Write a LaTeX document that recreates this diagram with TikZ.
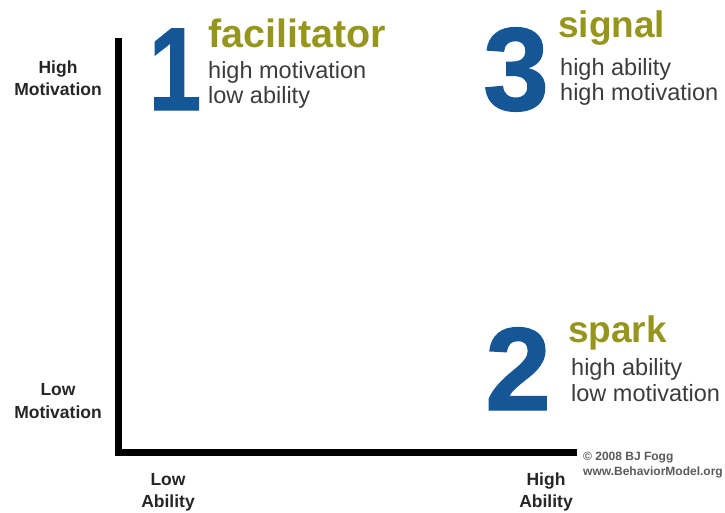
\documentclass[tikz,border=0pt]{standalone}
\usepackage{fontspec}
\setmainfont{Liberation Sans}
\newfontfamily\heavyfont[FakeBold=1.2]{Liberation Sans Bold}
\definecolor{bignum}{RGB}{20,86,150}
\definecolor{olive}{RGB}{150,150,30}
\definecolor{bodygray}{RGB}{60,60,60}
\definecolor{notegray}{RGB}{90,90,90}
\tikzset{
  axisline/.style={line width=7pt, line join=miter, line cap=butt},
  bigdigit/.style={inner sep=0pt, anchor=base, text=bignum, font=\fontsize{118}{118}\heavyfont},
  qtitle/.style={inner sep=0pt, anchor=base west, text=olive, font=\fontsize{37}{37}\selectfont\bfseries},
  qbody/.style={inner sep=0pt, anchor=base west, text=bodygray, font=\fontsize{23.5}{23.5}\selectfont},
  axislabel/.style={inner sep=0pt, anchor=base, text=black!85, font=\fontsize{17.5}{17.5}\selectfont\bfseries},
  note/.style={inner sep=0pt, anchor=base west, text=notegray, font=\fontsize{12}{12}\selectfont\bfseries},
}
\begin{document}
\begin{tikzpicture}[x=1pt,y=-1pt]
\useasboundingbox (0,0) rectangle (725,512);
% axes
\coordinate (top) at (118.5,38);
\coordinate (origin) at (118.5,452);
\coordinate (right) at (577,452);
\draw[axisline] (top) -- (origin) -- (right);
% axis labels
\node[axislabel] (hm1) at (58,73) {High};
\node[axislabel] (hm2) at (58,95) {Motivation};
\node[axislabel] (lm1) at (58,395) {Low};
\node[axislabel] (lm2) at (58,418) {Motivation};
\node[axislabel] (la1) at (168,485) {Low};
\node[axislabel] (la2) at (168,507) {Ability};
\node[axislabel] (ha1) at (546,485) {High};
\node[axislabel] (ha2) at (546,507) {Ability};
% copyright
\node[note] (c1) at (583,460) {© 2008 BJ Fogg};
\node[note] (c2) at (583,475) {www.BehaviorModel.org};
% quadrant 1
\node[bigdigit] (d1) at (175,110) {\scalebox{0.8}[1]{1}};
\node[qtitle, font=\fontsize{39.5}{39.5}\selectfont\bfseries] (t1) at (208,47) {facilitator};
\node[qbody] (b1a) at (208,78) {high motivation};
\node[qbody] (b1b) at (208,103) {low ability};
% quadrant 3
\node[bigdigit] (d3) at (516,110) {3};
\node[qtitle] (t3) at (558,37) {signal};
\node[qbody] (b3a) at (560,75) {high ability};
\node[qbody] (b3b) at (560,100) {high motivation};
% quadrant 2
\node[bigdigit] (d2) at (518,410) {2};
\node[qtitle] (t2) at (568,342) {spark};
\node[qbody] (b2a) at (571,375) {high ability};
\node[qbody] (b2b) at (571,401) {low motivation};
\end{tikzpicture}
\end{document}
